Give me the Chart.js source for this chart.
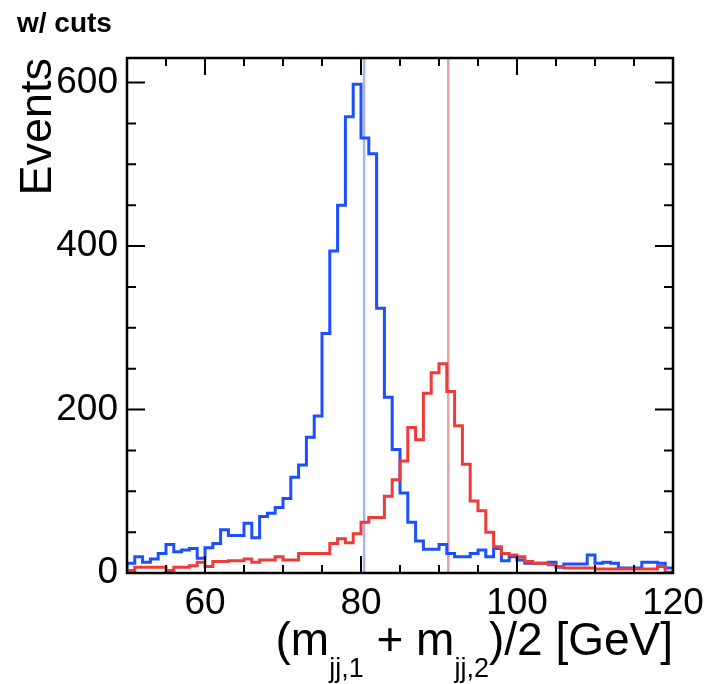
<!DOCTYPE html>
<html>
<head>
<meta charset="utf-8">
<script src="https://cdn.jsdelivr.net/npm/chart.js@4.4.1/dist/chart.umd.min.js"></script>
<style>
  html, body { margin: 0; padding: 0; background: #ffffff; }
  #wrap { width: 706px; height: 684px; position: relative; }
</style>
</head>
<body>
<div id="wrap"><canvas id="c" width="706" height="684"></canvas></div>
<script>
// Lower edges of the 1 GeV mass bins [GeV]
const binLowEdges = [
  50, 51, 52, 53, 54, 55, 56, 57, 58, 59,
  60, 61, 62, 63, 64, 65, 66, 67, 68, 69,
  70, 71, 72, 73, 74, 75, 76, 77, 78, 79,
  80, 81, 82, 83, 84, 85, 86, 87, 88, 89,
  90, 91, 92, 93, 94, 95, 96, 97, 98, 99,
  100, 101, 102, 103, 104, 105, 106, 107, 108, 109,
  110, 111, 112, 113, 114, 115, 116, 117, 118, 119
];
const binUpperEnd = 120;

// W-pair sample (blue), events per bin
const wwEvents = [
  12, 20, 13, 17, 24, 35, 26, 28, 30, 18,
  31, 36, 53, 46, 46, 61, 43, 69, 73, 80,
  91, 117, 132, 166, 192, 293, 394, 450, 558, 598,
  532, 513, 324, 215, 151, 98, 62, 39, 29, 29,
  35, 24, 20, 20, 24, 28, 20, 30, 15, 20,
  16, 12, 12, 12, 13, 7, 11, 11, 11, 22,
  12, 13, 12, 6, 6, 6, 13, 13, 12, 6
];

// Z-pair sample (red), events per bin
const zzEvents = [
  3, 7, 7, 7, 7, 3, 7, 7, 9, 13,
  8, 14, 14, 15, 15, 17, 13, 16, 16, 20,
  16, 16, 24, 24, 24, 24, 36, 42, 37, 48,
  62, 68, 68, 94, 114, 137, 178, 163, 220, 245,
  256, 222, 180, 133, 88, 76, 50, 32, 24, 22,
  20, 14, 12, 12, 10, 8, 6, 6, 6, 6,
  5, 5, 5, 5, 5, 5, 5, 5, 8, 1
];

// Boson masses marked by vertical lines [GeV]
const wMass = 80.4;
const zMass = 91.19;

const xTickValues = [60, 80, 100, 120];
const xTickLabels = ['60', '80', '100', '120'];
const yTickValues = [0, 200, 400, 600];
const yTickLabels = ['0', '200', '400', '600'];

const X_MIN = 50, X_MAX = 120, Y_MIN = 0, Y_MAX = 630;
const FONT = '"Liberation Sans", Arial, Helvetica, sans-serif';

// Step outline that starts and ends on the zero line
function histogramPoints(values) {
  const pts = [{ x: binLowEdges[0], y: 0 }];
  values.forEach((v, i) => pts.push({ x: binLowEdges[i], y: v }));
  pts.push({ x: binUpperEnd, y: 0 });
  return pts;
}

function massLine(m) {
  return [{ x: m, y: Y_MIN }, { x: m, y: Y_MAX }];
}

// Frame, inward ticks on all four sides, and the text labels
const framePlugin = {
  id: 'frameAndTitles',
  afterDraw(chart) {
    const { ctx, chartArea: a, scales: { x, y } } = chart;
    ctx.save();
    ctx.strokeStyle = '#000';
    ctx.lineWidth = 2.5;
    ctx.strokeRect(a.left, a.top, a.right - a.left, a.bottom - a.top);

    ctx.lineWidth = 2;
    ctx.beginPath();
    for (let v = 55; v < X_MAX; v += 5) {
      const px = x.getPixelForValue(v);
      const len = (v % 20 === 0) ? 17 : 8;
      ctx.moveTo(px, a.bottom); ctx.lineTo(px, a.bottom - len);
      ctx.moveTo(px, a.top); ctx.lineTo(px, a.top + len);
    }
    for (let v = 50; v <= 600; v += 50) {
      const py = y.getPixelForValue(v);
      const len = (v % 200 === 0) ? 18 : 9;
      ctx.moveTo(a.left, py); ctx.lineTo(a.left + len, py);
      ctx.moveTo(a.right, py); ctx.lineTo(a.right - len, py);
    }
    ctx.stroke();

    ctx.fillStyle = '#000';
    ctx.textBaseline = 'alphabetic';

    // selection tag
    ctx.font = 'bold 28px ' + FONT;
    ctx.textAlign = 'left';
    ctx.fillText('w/ cuts', 17, 32);

    // y-axis title
    ctx.save();
    ctx.translate(51, a.top);
    ctx.rotate(-Math.PI / 2);
    ctx.font = '45px ' + FONT;
    ctx.textAlign = 'right';
    ctx.fillText('Events', 0, 0);
    ctx.restore();

    // x-axis title with subscripts, right-aligned to the frame
    const main = '46px ' + FONT, sub = '27px ' + FONT;
    const parts = [
      ['(m', main, 0], ['jj,1', sub, 22], [' + m', main, 0],
      ['jj,2', sub, 22], [')/2 [GeV]', main, 0]
    ];
    let total = 0;
    parts.forEach(p => { ctx.font = p[1]; total += ctx.measureText(p[0]).width; });
    let cx = a.right - total;
    const base = 655;
    ctx.textAlign = 'left';
    parts.forEach(p => {
      ctx.font = p[1];
      ctx.fillText(p[0], cx, base + p[2]);
      cx += ctx.measureText(p[0]).width;
    });
    ctx.restore();
  }
};

new Chart(document.getElementById('c').getContext('2d'), {
  type: 'line',
  data: {
    datasets: [
      { data: massLine(wMass), borderColor: '#aab3f0', borderWidth: 2.5, order: 4 },
      { data: massLine(zMass), borderColor: '#dfa6a6', borderWidth: 2.5, order: 3 },
      { data: histogramPoints(wwEvents), borderColor: '#1c4fff', borderWidth: 3, stepped: 'before', order: 2 },
      { data: histogramPoints(zzEvents), borderColor: '#ef3a3a', borderWidth: 3, stepped: 'before', order: 1 }
    ]
  },
  options: {
    responsive: false,
    animation: false,
    devicePixelRatio: 1,
    layout: { padding: { top: 58, right: 33, left: 0, bottom: 0 } },
    plugins: { legend: { display: false }, tooltip: { enabled: false } },
    elements: { point: { radius: 0 }, line: { fill: false, borderJoinStyle: 'miter' } },
    scales: {
      x: {
        type: 'linear', min: X_MIN, max: X_MAX,
        grid: { display: false, drawTicks: false },
        border: { display: false },
        afterBuildTicks: s => { s.ticks = xTickValues.map(v => ({ value: v })); },
        afterFit: s => { s.height = 111; s.paddingLeft = 0; s.paddingRight = 0; },
        ticks: {
          autoSkip: false, maxRotation: 0, padding: 9, color: '#000',
          font: { family: FONT, size: 37 },
          callback: v => xTickLabels[xTickValues.indexOf(v)]
        }
      },
      y: {
        type: 'linear', min: Y_MIN, max: Y_MAX,
        grid: { display: false, drawTicks: false },
        border: { display: false },
        afterBuildTicks: s => { s.ticks = yTickValues.map(v => ({ value: v })); },
        afterFit: s => { s.width = 127; s.paddingTop = 0; s.paddingBottom = 0; },
        ticks: {
          autoSkip: false, padding: 9, color: '#000',
          font: { family: FONT, size: 37 },
          callback: v => yTickLabels[yTickValues.indexOf(v)]
        }
      }
    }
  },
  plugins: [framePlugin]
});
</script>
</body>
</html>
